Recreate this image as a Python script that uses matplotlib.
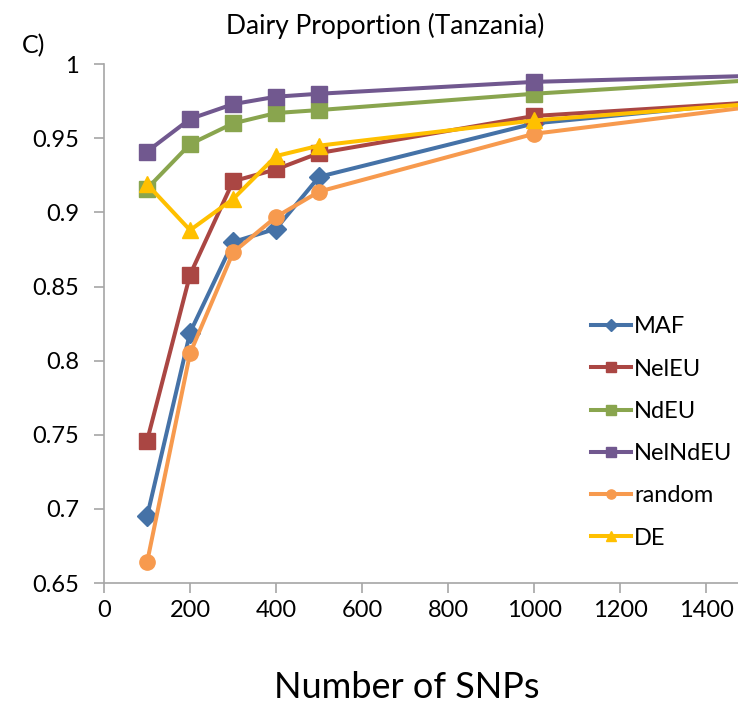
import matplotlib
matplotlib.use("Agg")
import matplotlib.pyplot as plt
from matplotlib.ticker import FuncFormatter

plt.rcParams['font.family'] = ['Lato', 'DejaVu Sans']

snps = [100, 200, 300, 400, 500, 1000, 1500]
maf = [0.695, 0.819, 0.880, 0.889, 0.924, 0.960, 0.974]
nel_eu = [0.746, 0.858, 0.921, 0.929, 0.940, 0.965, 0.974]
nd_eu = [0.916, 0.946, 0.960, 0.967, 0.969, 0.980, 0.989]
nel_nd_eu = [0.941, 0.963, 0.973, 0.978, 0.980, 0.988, 0.992]
random_sel = [0.664, 0.805, 0.873, 0.897, 0.914, 0.953, 0.971]
de = [0.919, 0.888, 0.909, 0.938, 0.945, 0.962, 0.973]

series = [
    ("MAF", maf, "#4572A7", "D", 10),
    ("NelEU", nel_eu, "#AA4643", "s", 11),
    ("NdEU", nd_eu, "#89A54E", "s", 11),
    ("NelNdEU", nel_nd_eu, "#71588F", "s", 11),
    ("random", random_sel, "#F79A4E", "o", 11),
    ("DE", de, "#FFC000", "^", 12),
]

fig = plt.figure(figsize=(7.38, 7.12), dpi=100)
ax = fig.add_axes([0.141, 0.181, 0.859, 0.729])

for name, vals, col, mk, ms in series:
    ax.plot(snps, vals, color=col, marker=mk, markersize=ms, linewidth=2.9, label=name)

ax.set_xlim(0, 1474)
ax.set_ylim(0.65, 1.0)
ax.set_xticks(range(0, 1401, 200))
ax.set_yticks([0.65, 0.7, 0.75, 0.8, 0.85, 0.9, 0.95, 1.0])
ax.yaxis.set_major_formatter(FuncFormatter(lambda v, p: "%g" % round(v, 2)))

for s in ["top", "right"]:
    ax.spines[s].set_visible(False)
for s in ["left", "bottom"]:
    ax.spines[s].set_color("#a6a6a6")
    ax.spines[s].set_linewidth(1.2)
ax.tick_params(axis="both", colors="#a6a6a6", length=7, width=1.2, labelcolor="black", labelsize=17)
ax.tick_params(axis="x", pad=5)
ax.tick_params(axis="y", pad=11)

ax.set_title("Dairy Proportion (Tanzania)", fontsize=19, pad=22, x=0.443)
ax.set_xlabel("Number of SNPs", fontsize=26, labelpad=36, x=0.478)
fig.text(0.03, 0.925, "C)", fontsize=18)

ax.legend(loc="upper left", bbox_to_anchor=(0.734, 0.555), frameon=False, fontsize=17,
          handlelength=1.7, labelspacing=0.9, handletextpad=0.15, markerscale=0.6)

fig.savefig("out.png", dpi=100)
